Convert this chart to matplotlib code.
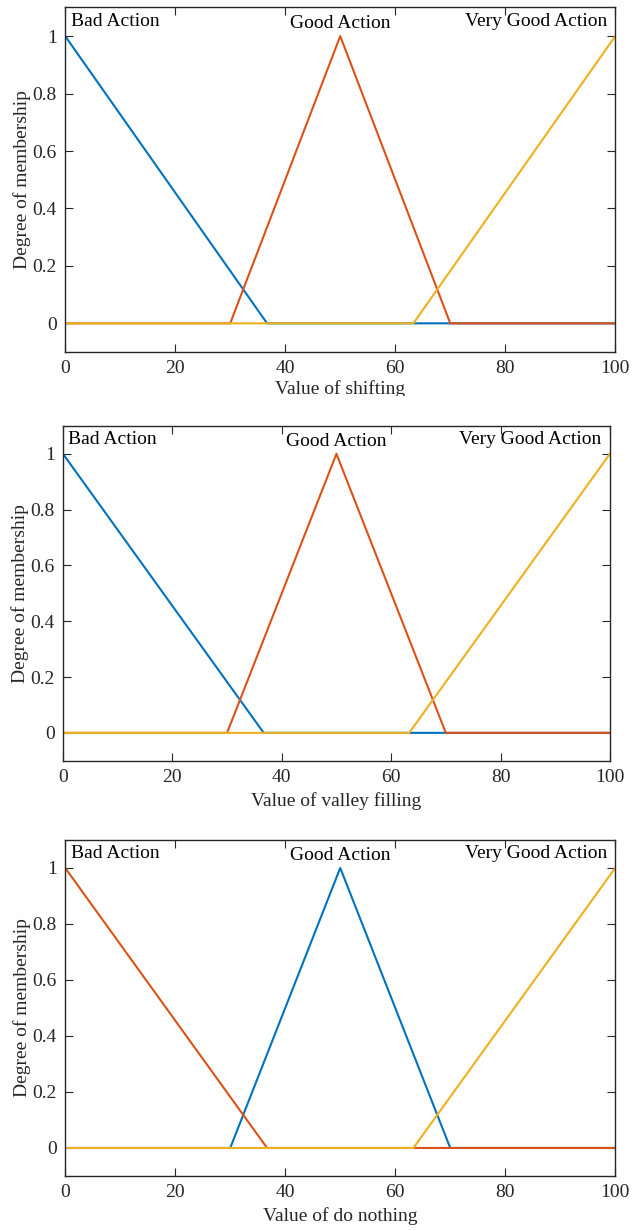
import numpy as np
import matplotlib
matplotlib.use("Agg")
import matplotlib.pyplot as plt
from matplotlib.transforms import Bbox, TransformedBbox

plt.rcParams['font.family'] = ['Liberation Serif', 'DejaVu Serif']

# membership functions, x breakpoints and degree
x_bad = [0, 36.7, 100]
y_bad = [1, 0, 0]
x_good = [0, 30, 50, 70, 100]
y_good = [0, 0, 1, 0, 0]
x_vgood = [0, 63.3, 100]
y_vgood = [0, 0, 1]

mf_names = ['Bad Action', 'Good Action', 'Very Good Action']
xlabels = ['Value of shifting', 'Value of valley filling', 'Value of do nothing']
xticks = [0, 20, 40, 60, 80, 100]
yticks = [0, 0.2, 0.4, 0.6, 0.8, 1]
ytick_labels = ['0', '0.2', '0.4', '0.6', '0.8', '1']

blue = '#0072BD'
red = '#D95319'
yellow = '#EDB120'
dark = '#262626'
# colour of bad / good / very good in each panel
panel_colors = [(blue, red, yellow), (blue, red, yellow), (red, blue, yellow)]

positions = [
    [0.103, 0.714, 0.869, 0.280],
    [0.0995, 0.382, 0.864, 0.272],
    [0.103, 0.0447, 0.869, 0.273],
]
pads = [2, 4, 4]

fig = plt.figure(figsize=(6.33, 12.31), dpi=100)

for i in range(3):
    ax = fig.add_axes(positions[i])
    c_bad, c_good, c_vg = panel_colors[i]
    if i == 2:
        ax.plot(x_good, y_good, color=c_good, lw=1.5)
        ax.plot(x_bad, y_bad, color=c_bad, lw=1.5)
    else:
        ax.plot(x_bad, y_bad, color=c_bad, lw=1.5)
        ax.plot(x_good, y_good, color=c_good, lw=1.5)
    ax.plot(x_vgood, y_vgood, color=c_vg, lw=1.5)

    ax.set_xlim(0, 100)
    ax.set_ylim(-0.1, 1.1)
    ax.set_xticks(xticks)
    ax.set_yticks(yticks)
    ax.set_yticklabels(ytick_labels)
    ax.tick_params(direction='in', top=True, right=True, labelsize=14,
                   length=6, width=0.8, pad=6, colors=dark)
    for sp in ax.spines.values():
        sp.set_linewidth(1.0)
        sp.set_color(dark)
    ax.set_ylabel('Degree of membership', fontsize=14, labelpad=1, color=dark)
    ax.set_xlabel(xlabels[i], fontsize=14, labelpad=pads[i], color=dark)

    ax.text(1, 1.05, mf_names[0], fontsize=14, ha='left', va='center', color='black')
    ax.text(50, 1.045, mf_names[1], fontsize=14, ha='center', va='center', color='black')
    ax.text(98.5, 1.05, mf_names[2], fontsize=14, ha='right', va='center', color='black')

    if i == 0:
        # the top panel is cut off just under its x label
        lab = ax.xaxis.label
        lab.set_clip_on(True)
        lab.set_clip_box(TransformedBbox(Bbox([[0, 1 - 396 / 1231], [1, 1]]), fig.transFigure))

fig.savefig('out.png', dpi=100)
